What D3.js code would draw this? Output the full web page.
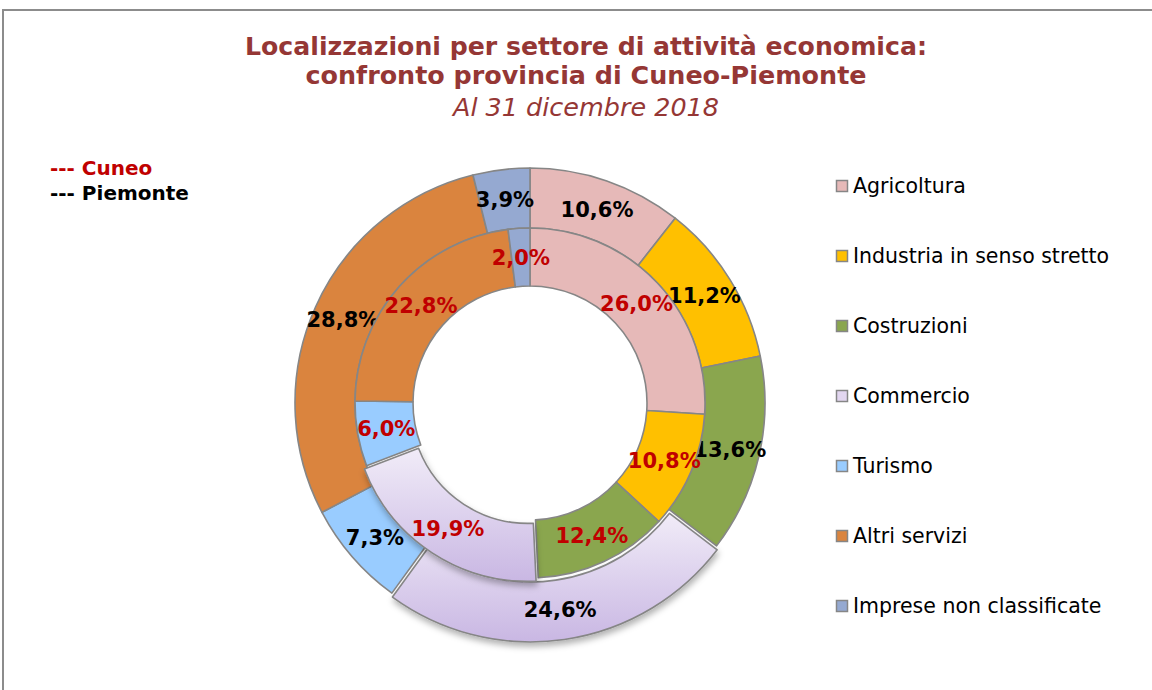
<!DOCTYPE html>
<html>
<head>
<meta charset="utf-8">
<script src="https://cdn.jsdelivr.net/npm/d3@7"></script>
<style>
  body { margin: 0; background: #fff; }
  svg { display: block; }
</style>
</head>
<body>
<div id="chart"></div>
<script>
// sectors, clockwise from 12 o'clock
var categories = ['Agricoltura', 'Industria in senso stretto', 'Costruzioni', 'Commercio', 'Turismo', 'Altri servizi', 'Imprese non classificate'];
var piemonte = [10.6, 11.2, 13.6, 24.6, 7.3, 28.8, 3.9];
var cuneo = [26.0, 10.8, 12.4, 19.9, 6.0, 22.8, 2.0];
var colors = ['#E6B9B8', '#FFC000', '#8AA64E', '#E2D6F0', '#99CCFF', '#DA843E', '#95A9D1'];
var exploded = 'Commercio';

var width = 1152, height = 690;
var cx = 530, cy = 403;
var rOuter = 235, rMid = 175, rHole = 117;
var font = 'DejaVu Sans, Verdana, sans-serif';

var svg = d3.select('#chart').append('svg')
    .attr('width', width)
    .attr('height', height);

var defs = svg.append('defs');
var grad = defs.append('linearGradient')
    .attr('id', 'commGrad')
    .attr('x1', 0).attr('y1', 0).attr('x2', 0).attr('y2', 1);
grad.append('stop').attr('offset', '0%').attr('stop-color', '#F1ECF8');
grad.append('stop').attr('offset', '100%').attr('stop-color', '#C9B7E3');
var shadow = defs.append('filter')
    .attr('id', 'shadow')
    .attr('x', '-20%').attr('y', '-20%').attr('width', '140%').attr('height', '150%');
shadow.append('feDropShadow')
    .attr('dx', 1).attr('dy', 4)
    .attr('stdDeviation', 3)
    .attr('flood-color', '#000')
    .attr('flood-opacity', 0.3);

// frame
svg.append('rect')
    .attr('x', 3).attr('y', 10)
    .attr('width', width + 20).attr('height', height + 20)
    .attr('fill', 'none')
    .attr('stroke', '#8c8c8c')
    .attr('stroke-width', 2);

// titles
var titleColor = '#953735';
var titles = [
    { text: 'Localizzazioni per settore di attività economica:', y: 55, bold: true, len: 682 },
    { text: 'confronto provincia di Cuneo-Piemonte', y: 84, bold: true, len: 561 },
    { text: 'Al 31 dicembre 2018', y: 116, bold: false, len: 266 }
];
svg.selectAll('text.title')
    .data(titles)
    .enter().append('text')
    .attr('class', 'title')
    .attr('x', 586)
    .attr('y', function (d) { return d.y; })
    .attr('text-anchor', 'middle')
    .attr('textLength', function (d) { return d.len; })
    .attr('lengthAdjust', 'spacingAndGlyphs')
    .style('font-family', font)
    .style('font-size', '24px')
    .style('font-weight', function (d) { return d.bold ? 'bold' : 'normal'; })
    .style('font-style', function (d) { return d.bold ? 'normal' : 'italic'; })
    .style('fill', titleColor)
    .text(function (d) { return d.text; });

// series key, top-left
var seriesKey = [
    { text: '--- Cuneo', color: '#C00000' },
    { text: '--- Piemonte', color: '#000' }
];
svg.selectAll('text.skey')
    .data(seriesKey)
    .enter().append('text')
    .attr('class', 'skey')
    .attr('x', 50)
    .attr('y', function (d, i) { return 175 + i * 25; })
    .style('font-family', font)
    .style('font-size', '20px')
    .style('font-weight', 'bold')
    .style('fill', function (d) { return d.color; })
    .text(function (d) { return d.text; });

var pie = d3.pie().sort(null).value(function (d) { return d.value; });
var explode = 4;

function ring(values, r0, r1, labelColor, cls) {
    var arcs = pie(values.map(function (v, i) { return { name: categories[i], value: v, color: colors[i] }; }));
    var arc = d3.arc().innerRadius(r0).outerRadius(r1);
    var g = svg.append('g').attr('class', cls).attr('transform', 'translate(' + cx + ',' + cy + ')');
    function shift(d) {
        if (d.data.name !== exploded) return 'translate(0,0)';
        var a = (d.startAngle + d.endAngle) / 2;
        return 'translate(' + (Math.sin(a) * explode) + ',' + (-Math.cos(a) * explode) + ')';
    }
    g.selectAll('path')
        .data(arcs)
        .enter().append('path')
        .attr('d', arc)
        .attr('transform', shift)
        .attr('fill', function (d) { return d.data.name === exploded ? 'url(#commGrad)' : d.data.color; })
        .attr('filter', function (d) { return d.data.name === exploded ? 'url(#shadow)' : null; })
        .attr('stroke', '#868686')
        .attr('stroke-width', 1.6)
        .attr('stroke-linejoin', 'round');
    return { g: g, arcs: arcs, arc: arc, shift: shift, color: labelColor };
}

// outer = Piemonte, inner = Cuneo
var outer = ring(piemonte, rMid, rOuter, '#000', 'outer');
var inner = ring(cuneo, rHole, rMid, '#C00000', 'inner');

// bring exploded slices on top of neighbours
svg.selectAll('g.outer path, g.inner path')
    .filter(function (d) { return d.data.name === exploded; })
    .raise();

[outer, inner].forEach(function (r) {
    r.g.selectAll('text')
        .data(r.arcs)
        .enter().append('text')
        .attr('transform', function (d) {
            var c = r.arc.centroid(d);
            var a = (d.startAngle + d.endAngle) / 2;
            var off = d.data.name === exploded ? explode : 0;
            return 'translate(' + (c[0] + Math.sin(a) * off) + ',' + (c[1] - Math.cos(a) * off) + ')';
        })
        .attr('text-anchor', 'middle')
        .attr('dy', '0.36em')
        .style('font-family', font)
        .style('font-size', '21px')
        .style('font-weight', 'bold')
        .style('fill', r.color)
        .text(function (d) { return d3.format('.1f')(d.data.value).replace('.', ',') + '%'; });
});

// category legend, right
var legend = svg.append('g').attr('transform', 'translate(836,180)');
var item = legend.selectAll('g')
    .data(categories)
    .enter().append('g')
    .attr('transform', function (d, i) { return 'translate(0,' + (i * 70) + ')'; });
item.append('rect')
    .attr('width', 11).attr('height', 11)
    .attr('x', 0.5).attr('y', 0.5)
    .attr('fill', function (d, i) { return colors[i]; })
    .attr('stroke', '#868686')
    .attr('stroke-width', 1.5);
item.append('text')
    .attr('x', 17)
    .attr('y', 13)
    .style('font-family', font)
    .style('font-size', '20.5px')
    .style('fill', '#000')
    .text(function (d) { return d; });
</script>
</body>
</html>
